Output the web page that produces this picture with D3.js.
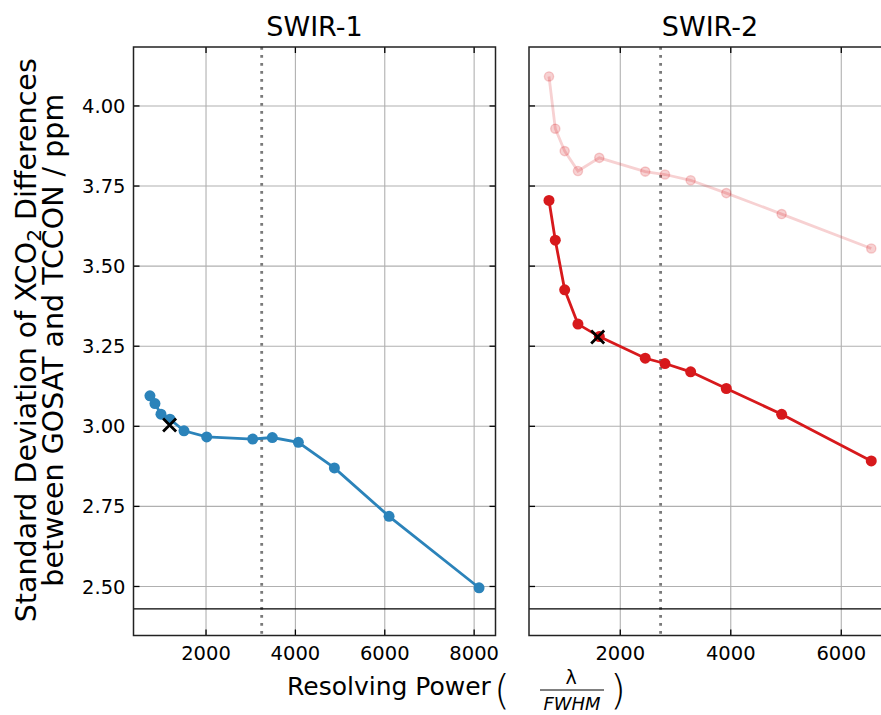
<!DOCTYPE html>
<html>
<head>
<meta charset="utf-8">
<script src="https://cdn.jsdelivr.net/npm/d3@7"></script>
<style>
  html, body { margin: 0; padding: 0; background: #fff; }
  svg { display: block; font-family: "DejaVu Sans", sans-serif; }
</style>
</head>
<body>
<svg id="chart" width="881" height="715"></svg>
<script>
// ---------------- data ----------------
const panelTitles = ["SWIR-1", "SWIR-2"];

const swir1X = [745, 857, 992, 1193, 1507, 2015, 3044, 3484, 4066, 4872, 6096, 8110];
const swir1Y = [3.095, 3.071, 3.038, 3.022, 2.986, 2.967, 2.960, 2.965, 2.950, 2.870, 2.719, 2.496];
const swir1Best = [1185, 3.004];
const swir1Ref = 3246;

const swir2X = [710, 824, 994, 1234, 1620, 2452, 2809, 3274, 3919, 4921, 6543];
const swir2Y = [3.705, 3.581, 3.426, 3.319, 3.280, 3.2125, 3.196, 3.170, 3.118, 3.0375, 2.892];
const swir2Faded = [4.092, 3.929, 3.859, 3.797, 3.838, 3.795, 3.786, 3.768, 3.728, 3.6625, 3.555];
const swir2Best = [1591, 3.279];
const swir2Ref = 2730;

const floorLevel = 2.430;

const yTicks = [2.50, 2.75, 3.00, 3.25, 3.50, 3.75, 4.00];
const xTicks1 = [2000, 4000, 6000, 8000];
const xTicks2 = [2000, 4000, 6000];

// ---------------- layout ----------------
const svg = d3.select("#chart");
const plotTop = 47, plotBottom = 635.5;
const y = d3.scaleLinear().domain([2.347, 4.184]).range([plotBottom, plotTop]);

const xs1 = d3.scaleLinear().domain([377, 8478]).range([133.5, 495.5]);
const xs2 = d3.scaleLinear().domain([348, 6900]).range([529, 891]);

const BLUE = "#2b83ba", RED = "#d7191c";
const tickLen = 6;

function panel(x, xTicks, opts) {
  const [x0, x1p] = x.range();
  const g = svg.append("g");
  // grid
  g.append("g").selectAll("line").data(xTicks).join("line")
    .attr("x1", d => x(d)).attr("x2", d => x(d))
    .attr("y1", plotTop).attr("y2", plotBottom)
    .attr("stroke", "#b0b0b0").attr("stroke-width", 1.1);
  g.append("g").selectAll("line").data(yTicks).join("line")
    .attr("x1", x0).attr("x2", x1p)
    .attr("y1", d => y(d)).attr("y2", d => y(d))
    .attr("stroke", "#b0b0b0").attr("stroke-width", 1.1);

  // reference vertical dotted line
  g.append("line")
    .attr("x1", x(opts.ref)).attr("x2", x(opts.ref))
    .attr("y1", plotTop).attr("y2", plotBottom)
    .attr("stroke", "#7a7a7a").attr("stroke-width", 2.8)
    .attr("stroke-dasharray", "2.8,5.2");

  // floor line
  g.append("line")
    .attr("x1", x0).attr("x2", x1p)
    .attr("y1", y(floorLevel)).attr("y2", y(floorLevel))
    .attr("stroke", "#000").attr("stroke-width", 1.3);

  const line = d3.line().x(d => x(d[0])).y(d => y(d[1]));

  if (opts.faded) {
    const pts = opts.xs.map((d, i) => [d, opts.faded[i]]);
    g.append("path").datum(pts).attr("d", line)
      .attr("fill", "none").attr("stroke", opts.color)
      .attr("stroke-width", 2.8).attr("stroke-opacity", 0.2);
    g.append("g").selectAll("circle").data(pts).join("circle")
      .attr("cx", d => x(d[0])).attr("cy", d => y(d[1])).attr("r", 4.6)
      .attr("fill", opts.color).attr("fill-opacity", 0.2)
      .attr("stroke", opts.color).attr("stroke-opacity", 0.2).attr("stroke-width", 1.4);
  }

  const pts = opts.xs.map((d, i) => [d, opts.ys[i]]);
  g.append("path").datum(pts).attr("d", line)
    .attr("fill", "none").attr("stroke", opts.color).attr("stroke-width", 2.8);
  g.append("g").selectAll("circle").data(pts).join("circle")
    .attr("cx", d => x(d[0])).attr("cy", d => y(d[1])).attr("r", 5.5)
    .attr("fill", opts.color);

  // best marker (x)
  const bx = x(opts.best[0]), by = y(opts.best[1]), s = 6.5;
  g.append("path")
    .attr("d", `M${bx - s},${by - s}L${bx + s},${by + s}M${bx - s},${by + s}L${bx + s},${by - s}`)
    .attr("stroke", "#000").attr("stroke-width", 2.8).attr("fill", "none");

  // ticks (inward)
  const tg = g.append("g").attr("stroke", "#000").attr("stroke-width", 1.3);
  xTicks.forEach(t => {
    tg.append("line").attr("x1", x(t)).attr("x2", x(t)).attr("y1", plotBottom).attr("y2", plotBottom - tickLen);
    tg.append("line").attr("x1", x(t)).attr("x2", x(t)).attr("y1", plotTop).attr("y2", plotTop + tickLen);
  });
  yTicks.forEach(t => {
    tg.append("line").attr("x1", x0).attr("x2", x0 + tickLen).attr("y1", y(t)).attr("y2", y(t));
    tg.append("line").attr("x1", x1p).attr("x2", x1p - tickLen).attr("y1", y(t)).attr("y2", y(t));
  });

  // frame
  g.append("rect").attr("x", x0).attr("y", plotTop)
    .attr("width", x1p - x0).attr("height", plotBottom - plotTop)
    .attr("fill", "none").attr("stroke", "#222").attr("stroke-width", 1.5);

  // tick labels
  g.append("g").selectAll("text").data(xTicks).join("text")
    .attr("x", d => x(d)).attr("y", 660)
    .attr("text-anchor", "middle").attr("font-size", 19.5).attr("fill", "#000")
    .text(d => d);
  if (opts.yLabels) {
    g.append("g").selectAll("text").data(yTicks).join("text")
      .attr("x", x0 - 8).attr("y", d => y(d)).attr("dy", "0.36em")
      .attr("text-anchor", "end").attr("font-size", 19.5).attr("fill", "#000")
      .text(d => d3.format(".2f")(d));
  }

  // title
  g.append("text").attr("x", (x0 + x1p) / 2).attr("y", 36)
    .attr("text-anchor", "middle").attr("font-size", 27).attr("fill", "#000")
    .text(opts.title);
}

panel(xs1, xTicks1, { xs: swir1X, ys: swir1Y, best: swir1Best, ref: swir1Ref, color: BLUE, yLabels: true, title: panelTitles[0] });
panel(xs2, xTicks2, { xs: swir2X, ys: swir2Y, faded: swir2Faded, best: swir2Best, ref: swir2Ref, color: RED, yLabels: false, title: panelTitles[1] });

// y axis label
const yl = svg.append("g").attr("transform", `translate(0,${(plotTop + plotBottom) / 2 - 1}) rotate(-90)`);
const l1 = yl.append("text").attr("x", 0).attr("y", 36).attr("text-anchor", "middle")
  .attr("font-size", 28.5).attr("fill", "#000");
l1.append("tspan").text("Standard Deviation of XCO");
l1.append("tspan").attr("font-size", 20).attr("dy", 5).text("2");
l1.append("tspan").attr("dy", -5).text(" Differences");
yl.append("text").attr("x", 0).attr("y", 63).attr("text-anchor", "middle")
  .attr("font-size", 28.5).attr("fill", "#000")
  .text("between GOSAT and TCCON / ppm");

// x axis label
const xl = svg.append("g");
xl.append("text").attr("x", 287).attr("y", 695).attr("font-size", 25).attr("fill", "#000")
  .text("Resolving Power");
xl.append("text").attr("x", 494).attr("y", 704).attr("font-size", 41).attr("fill", "#000")
  .attr("font-weight", 200).text("(");
xl.append("text").attr("x", 571).attr("y", 684).attr("text-anchor", "middle")
  .attr("font-size", 19).attr("fill", "#000").text("λ");
xl.append("line").attr("x1", 540).attr("x2", 604).attr("y1", 690).attr("y2", 690)
  .attr("stroke", "#000").attr("stroke-width", 1);
xl.append("text").attr("x", 572).attr("y", 710).attr("text-anchor", "middle")
  .attr("font-size", 18).attr("font-style", "italic").attr("fill", "#000").text("FWHM");
xl.append("text").attr("x", 610).attr("y", 704).attr("font-size", 41).attr("fill", "#000")
  .attr("font-weight", 200).text(")");
</script>
</body>
</html>
